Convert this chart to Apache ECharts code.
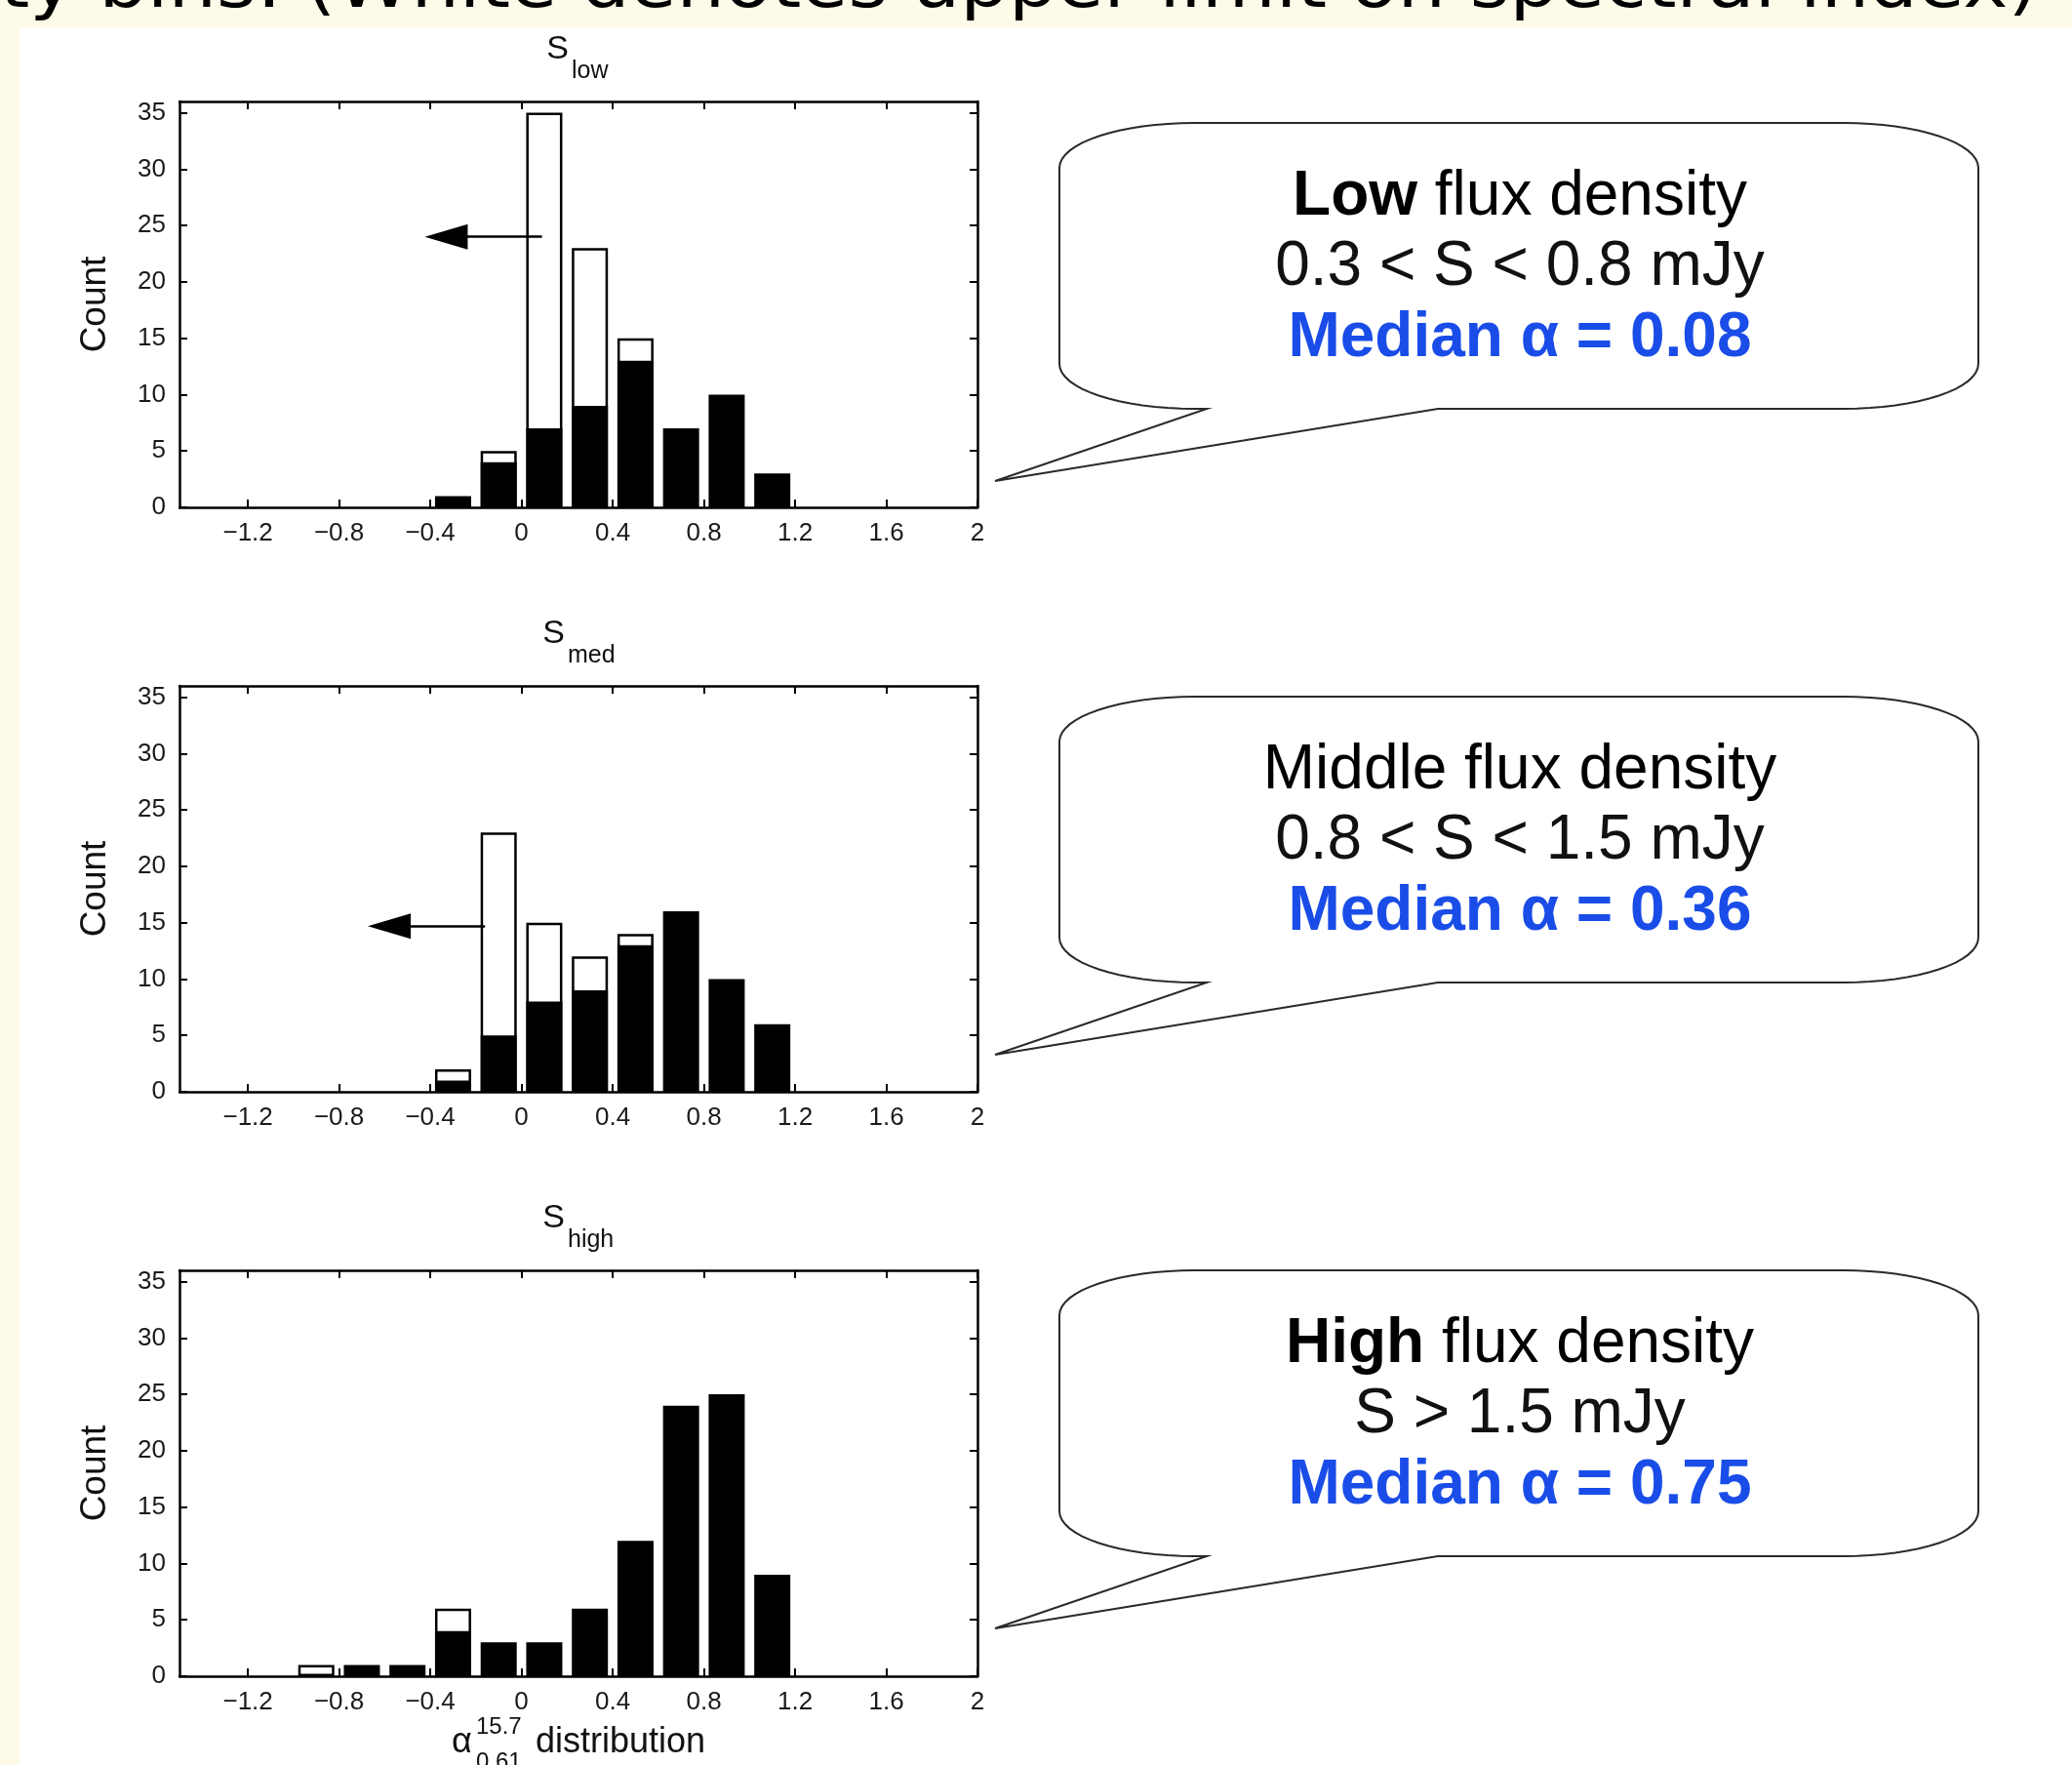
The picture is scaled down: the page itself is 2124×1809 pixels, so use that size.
<!DOCTYPE html>
<html>
<head>
<meta charset="utf-8">
<title>spectral index distribution</title>
<script src="https://cdn.jsdelivr.net/npm/echarts@6/dist/echarts.min.js"></script>
<style>
    html, body {margin: 0; padding: 0; background: #fff;}
    #main {width: 2124px; height: 1809px;}
</style>
</head>
<body>
<div id="main"></div>
<script>
// histogram bin centres and counts (black = measured, total incl. white upper limits)
var binsLow = [-0.3, -0.1, 0.1, 0.3, 0.5, 0.7, 0.9, 1.1];
var blackLow = [1, 4, 7, 9, 13, 7, 10, 3];
var totalLow = [1, 5, 35, 23, 15, 7, 10, 3];

var binsMed = [-0.3, -0.1, 0.1, 0.3, 0.5, 0.7, 0.9, 1.1];
var blackMed = [1, 5, 8, 9, 13, 16, 10, 6];
var totalMed = [2, 23, 15, 12, 14, 16, 10, 6];

var binsHigh = [-0.9, -0.7, -0.5, -0.3, -0.1, 0.1, 0.3, 0.5, 0.7, 0.9, 1.1];
var blackHigh = [0, 1, 1, 4, 3, 3, 6, 12, 24, 25, 9];
var totalHigh = [1, 1, 1, 6, 3, 3, 6, 12, 24, 25, 9];

var xTicks = [-1.2, -0.8, -0.4, 0, 0.4, 0.8, 1.2, 1.6, 2];
var yTicks = [0, 5, 10, 15, 20, 25, 30, 35];

// upper limit arrows: [from x, to x, count]
var arrowLow = [0.09, -0.33, 24];
var arrowMed = [-0.16, -0.58, 14.7];

var subNames = ['low', 'med', 'high'];
var heads = ['{b|Low}{n| flux density}', '{n|Middle flux density}', '{b|High}{n| flux density}'];
var ranges = ['0.3 < S < 0.8 mJy', '0.8 < S < 1.5 mJy', 'S > 1.5 mJy'];
var medians = ['0.08', '0.36', '0.75'];

var font = 'Liberation Sans';
var cream = '#fefae9';
var plotLeft = 184, plotWidth = 818, plotHeight = 416;
var plotTops = [104, 703, 1302];
var sRight = [583, 579, 579];
var calloutShift = [0, 588, 1176];

var chart = echarts.init(document.getElementById('main'));

function fmt(v) {
    return String(v).replace('-', '\u2212');
}

// quarter ellipse points for the rounded bubble corners
function corner(pts, cx, cy, rx, ry, a0, a1) {
    for (var j = 0; j <= 16; j++) {
        var a = a0 + (a1 - a0) * j / 16;
        pts.push([cx + rx * Math.cos(a), cy + ry * Math.sin(a)]);
    }
}

function bubble(s) {
    var L = 1086, R = 2028, T = 126 + s, B = 419 + s, rx = 138, ry = 46;
    var pts = [];
    var h = Math.PI / 2;
    corner(pts, R - rx, T + ry, rx, ry, -h, 0);
    corner(pts, R - rx, B - ry, rx, ry, 0, h);
    pts.push([1474, B], [1020, 493 + s], [1237, B]);
    corner(pts, L + rx, B - ry, rx, ry, h, 2 * h);
    corner(pts, L + rx, T + ry, rx, ry, 2 * h, 3 * h);
    return {type: 'polygon', z: 5, shape: {points: pts},
        style: {fill: '#fff', stroke: '#2a2a2a', lineWidth: 2}};
}

var grids = [], xAxes = [], yAxes = [], series = [], graphics = [];

// cream slide background strips and cut-off slide heading
graphics.push(
    {type: 'rect', z: 0, shape: {x: 0, y: 0, width: 2124, height: 28}, style: {fill: cream}},
    {type: 'rect', z: 0, shape: {x: 0, y: 0, width: 20, height: 1809}, style: {fill: cream}},
    {type: 'text', z: 1, x: 2089, y: -11, scaleX: 1.115,
        style: {text: 'ty bins: (White denotes upper limit on spectral index)', font: '70px "DejaVu Sans"', fill: '#000',
            align: 'right', textAlign: 'right', verticalAlign: 'middle', textVerticalAlign: 'middle'}}
);

var panels = [
    [binsLow, blackLow, totalLow, arrowLow],
    [binsMed, blackMed, totalMed, arrowMed],
    [binsHigh, blackHigh, totalHigh, null]
];

for (var i = 0; i < 3; i++) {
    grids.push({left: plotLeft, top: plotTops[i], width: plotWidth, height: plotHeight,
        containLabel: false, outerBoundsMode: 'none'});

    var axLine = {onZero: false, lineStyle: {color: '#000', width: 2.5}};
    var xTick = {inside: true, length: 8, customValues: xTicks, lineStyle: {color: '#000', width: 2}};
    var yTick = {inside: true, length: 8, customValues: yTicks, lineStyle: {color: '#000', width: 2}};
    var lab = {fontSize: 26, fontFamily: font, color: '#1a1a1a'};

    xAxes.push({type: 'value', gridIndex: i, position: 'bottom', min: -1.5, max: 2,
        axisLine: axLine, axisTick: xTick, splitLine: {show: false},
        axisLabel: Object.assign({customValues: xTicks, formatter: fmt, margin: 14}, lab)});
    xAxes.push({type: 'value', gridIndex: i, position: 'top', min: -1.5, max: 2,
        axisLine: axLine, axisTick: xTick, splitLine: {show: false}, axisLabel: {show: false}});
    yAxes.push({type: 'value', gridIndex: i, position: 'left', min: 0, max: 36,
        axisLine: axLine, axisTick: yTick, splitLine: {show: false},
        axisLabel: Object.assign({customValues: yTicks, margin: 14}, lab),
        name: 'Count', nameLocation: 'middle', nameGap: 68,
        nameTextStyle: {fontSize: 37, fontFamily: font, color: '#111'}});
    yAxes.push({type: 'value', gridIndex: i, position: 'right', min: 0, max: 36,
        axisLine: axLine, axisTick: yTick, splitLine: {show: false}, axisLabel: {show: false}});

    var p = panels[i];
    // white outline bar = full count incl. upper limits, black bar drawn over it
    var totalData = p[0].map(function (x, k) { return [x, p[2][k] > p[1][k] ? p[2][k] : null]; });
    var blackData = p[0].map(function (x, k) { return [x, p[1][k] > 0 ? p[1][k] : null]; });

    series.push({
        type: 'bar', xAxisIndex: 2 * i, yAxisIndex: 2 * i, barWidth: 37, barGap: '-100%',
        data: totalData, silent: true,
        itemStyle: {color: '#fff', borderColor: '#000', borderWidth: 2.5}
    });
    var blackSeries = {
        type: 'bar', xAxisIndex: 2 * i, yAxisIndex: 2 * i, barWidth: 37, barGap: '-100%',
        data: blackData, silent: true,
        itemStyle: {color: '#000', borderColor: '#000', borderWidth: 2.5}
    };
    if (p[3]) {
        blackSeries.markLine = {
            silent: true, symbol: ['none', 'triangle'], symbolSize: [26, 44],
            label: {show: false}, lineStyle: {color: '#000', width: 2.5, type: 'solid'},
            data: [[{coord: [p[3][0], p[3][2]]}, {coord: [p[3][1], p[3][2]]}]]
        };
    }
    series.push(blackSeries);

    // panel title S_low / S_med / S_high
    var off = plotTops[i] - plotTops[0];
    graphics.push({type: 'text', x: sRight[i], y: 51 + off, z: 10,
        style: {text: 'S', font: '34px "' + font + '"', fill: '#111',
            align: 'right', textAlign: 'right', verticalAlign: 'middle', textVerticalAlign: 'middle'}});
    graphics.push({type: 'text', x: sRight[i] + 3, y: 73 + off, z: 10,
        style: {text: subNames[i], font: '25px "' + font + '"', fill: '#111',
            align: 'left', textAlign: 'left', verticalAlign: 'middle', textVerticalAlign: 'middle'}});

    // speech bubble with the flux bin summary
    var s = calloutShift[i];
    graphics.push(bubble(s));
    var cx = 1558;
    graphics.push({type: 'text', x: cx, y: 202 + s, z: 10,
        style: {text: heads[i], align: 'center', textAlign: 'center', verticalAlign: 'middle', textVerticalAlign: 'middle',
            rich: {
                b: {fontSize: 64, fontFamily: font, fontWeight: 'bold', color: '#000'},
                n: {fontSize: 64, fontFamily: font, fontWeight: 'normal', color: '#111'}
            }}});
    graphics.push({type: 'text', x: cx, y: 274 + s, z: 10,
        style: {text: ranges[i], font: '64px "' + font + '"', fill: '#111',
            align: 'center', textAlign: 'center', verticalAlign: 'middle', textVerticalAlign: 'middle'}});
    graphics.push({type: 'text', x: cx, y: 347 + s, z: 10,
        style: {text: 'Median \u03b1 = ' + medians[i], font: 'bold 64px "' + font + '"', fill: '#1a4de8',
            align: 'center', textAlign: 'center', verticalAlign: 'middle', textVerticalAlign: 'middle'}});
}

// x axis label of the bottom panel
function label(txt, x, y, size) {
    return {type: 'text', z: 10, x: x, y: y,
        style: {text: txt, font: size + 'px "' + font + '"', fill: '#111',
            align: 'left', textAlign: 'left', verticalAlign: 'middle', textVerticalAlign: 'middle'}};
}
graphics.push(label('\u03b1', 463, 1786, 36));
graphics.push(label('15.7', 488, 1770, 24));
graphics.push(label('0.61', 488, 1806, 24));
graphics.push(label('distribution', 549, 1786, 36));

chart.setOption({
    backgroundColor: '#fff',
    animation: false,
    grid: grids,
    xAxis: xAxes,
    yAxis: yAxes,
    series: series,
    graphic: {elements: graphics}
});
</script>
</body>
</html>
